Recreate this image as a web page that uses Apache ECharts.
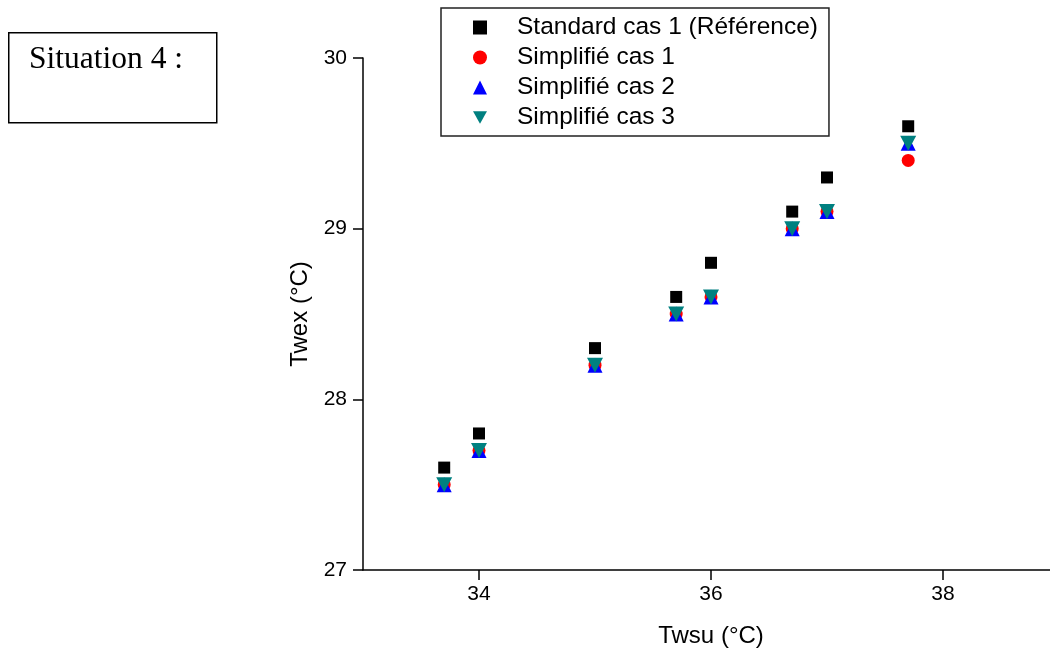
<!DOCTYPE html>
<html>
<head>
<meta charset="utf-8">
<script src="https://cdn.jsdelivr.net/npm/echarts@6/dist/echarts.min.js"></script>
<style>html,body{margin:0;padding:0;background:#fff}#c{width:1050px;height:652px}</style>
</head>
<body>
<div id="c"></div>
<script>
const twsu = [33.7, 34.0, 35.0, 35.7, 36.0, 36.7, 37.0, 37.7];
const standardCas1 = [27.6, 27.8, 28.3, 28.6, 28.8, 29.1, 29.3, 29.6];
const simplifieCas1 = [27.5, 27.7, 28.2, 28.5, 28.6, 29.0, 29.1, 29.4];
const simplifieCas2 = [27.5, 27.7, 28.2, 28.5, 28.6, 29.0, 29.1, 29.5];
const simplifieCas3 = [27.5, 27.7, 28.2, 28.5, 28.6, 29.0, 29.1, 29.5];
const xTicks = [34, 36, 38];
const yTicks = [27, 28, 29, 30];
const seriesNames = ['Standard cas 1 (Référence)', 'Simplifié cas 1', 'Simplifié cas 2', 'Simplifié cas 3'];

const pair = ys => twsu.map((x, i) => [x, ys[i]]);
const FONT = '"Liberation Sans", Arial, sans-serif';
const downTri = 'path://M0,0 L10,0 L5,9 Z';

const chart = echarts.init(document.getElementById('c'), null, {renderer: 'canvas'});
chart.setOption({
  animation: false,
  backgroundColor: '#fff',
  grid: {left: 363, top: 58, width: 696, height: 512, outerBoundsMode: 'none', containLabel: false},
  xAxis: {
    type: 'value', min: 33, max: 39,
    name: 'Twsu (°C)', nameLocation: 'middle', nameGap: 54,
    nameTextStyle: {fontSize: 24, fontFamily: FONT, color: '#000'},
    axisLine: {lineStyle: {color: '#000', width: 1.5}},
    axisTick: {show: true, inside: false, length: 10, customValues: xTicks, lineStyle: {color: '#000', width: 1.5}},
    axisLabel: {customValues: xTicks, margin: 14, fontSize: 21, fontFamily: FONT, color: '#000'},
    splitLine: {show: false}
  },
  yAxis: {
    type: 'value', min: 27, max: 30, interval: 1,
    name: 'Twex (°C)', nameLocation: 'middle', nameGap: 51, nameRotate: 90,
    nameTextStyle: {fontSize: 24, fontFamily: FONT, color: '#000'},
    axisLine: {show: true, lineStyle: {color: '#000', width: 1.5}},
    axisTick: {show: true, inside: false, length: 10, customValues: yTicks, lineStyle: {color: '#000', width: 1.5}},
    axisLabel: {customValues: yTicks, margin: 16, fontSize: 21, fontFamily: FONT, color: '#000'},
    splitLine: {show: false}
  },
  legend: {
    orient: 'vertical', left: 441, top: 8,
    padding: [7, 11, 6, 32],
    itemGap: 5, itemWidth: 14, itemHeight: 14,
    borderColor: '#222', borderWidth: 1.5,
    textStyle: {fontSize: 24.5, fontFamily: FONT, color: '#000', lineHeight: 24, padding: [0, 0, 0, 25]},
    data: [
      {name: seriesNames[0], icon: 'rect'},
      {name: seriesNames[1], icon: 'circle'},
      {name: seriesNames[2], icon: 'triangle'},
      {name: seriesNames[3], icon: downTri}
    ]
  },
  graphic: [
    {type: 'rect', left: 8, top: 32, shape: {width: 208, height: 90}, style: {fill: '#fff', stroke: '#000', lineWidth: 1.5}},
    {type: 'text', left: 29, top: 44, style: {text: 'Situation 4 :', font: '31.5px "Liberation Serif", "Times New Roman", serif', fill: '#000'}}
  ],
  series: [
    {name: seriesNames[0], type: 'scatter', symbol: 'rect', symbolSize: 12, data: pair(standardCas1), itemStyle: {color: '#000', opacity: 1}},
    {name: seriesNames[1], type: 'scatter', symbol: 'circle', symbolSize: 13, data: pair(simplifieCas1), itemStyle: {color: '#ff0000', opacity: 1}},
    {name: seriesNames[2], type: 'scatter', symbol: 'triangle', symbolSize: 15, data: pair(simplifieCas2), itemStyle: {color: '#0000ff', opacity: 1}},
    {name: seriesNames[3], type: 'scatter', symbol: downTri, symbolSize: [16, 15], data: pair(simplifieCas3), itemStyle: {color: '#008080', opacity: 1}}
  ]
});
</script>
</body>
</html>
